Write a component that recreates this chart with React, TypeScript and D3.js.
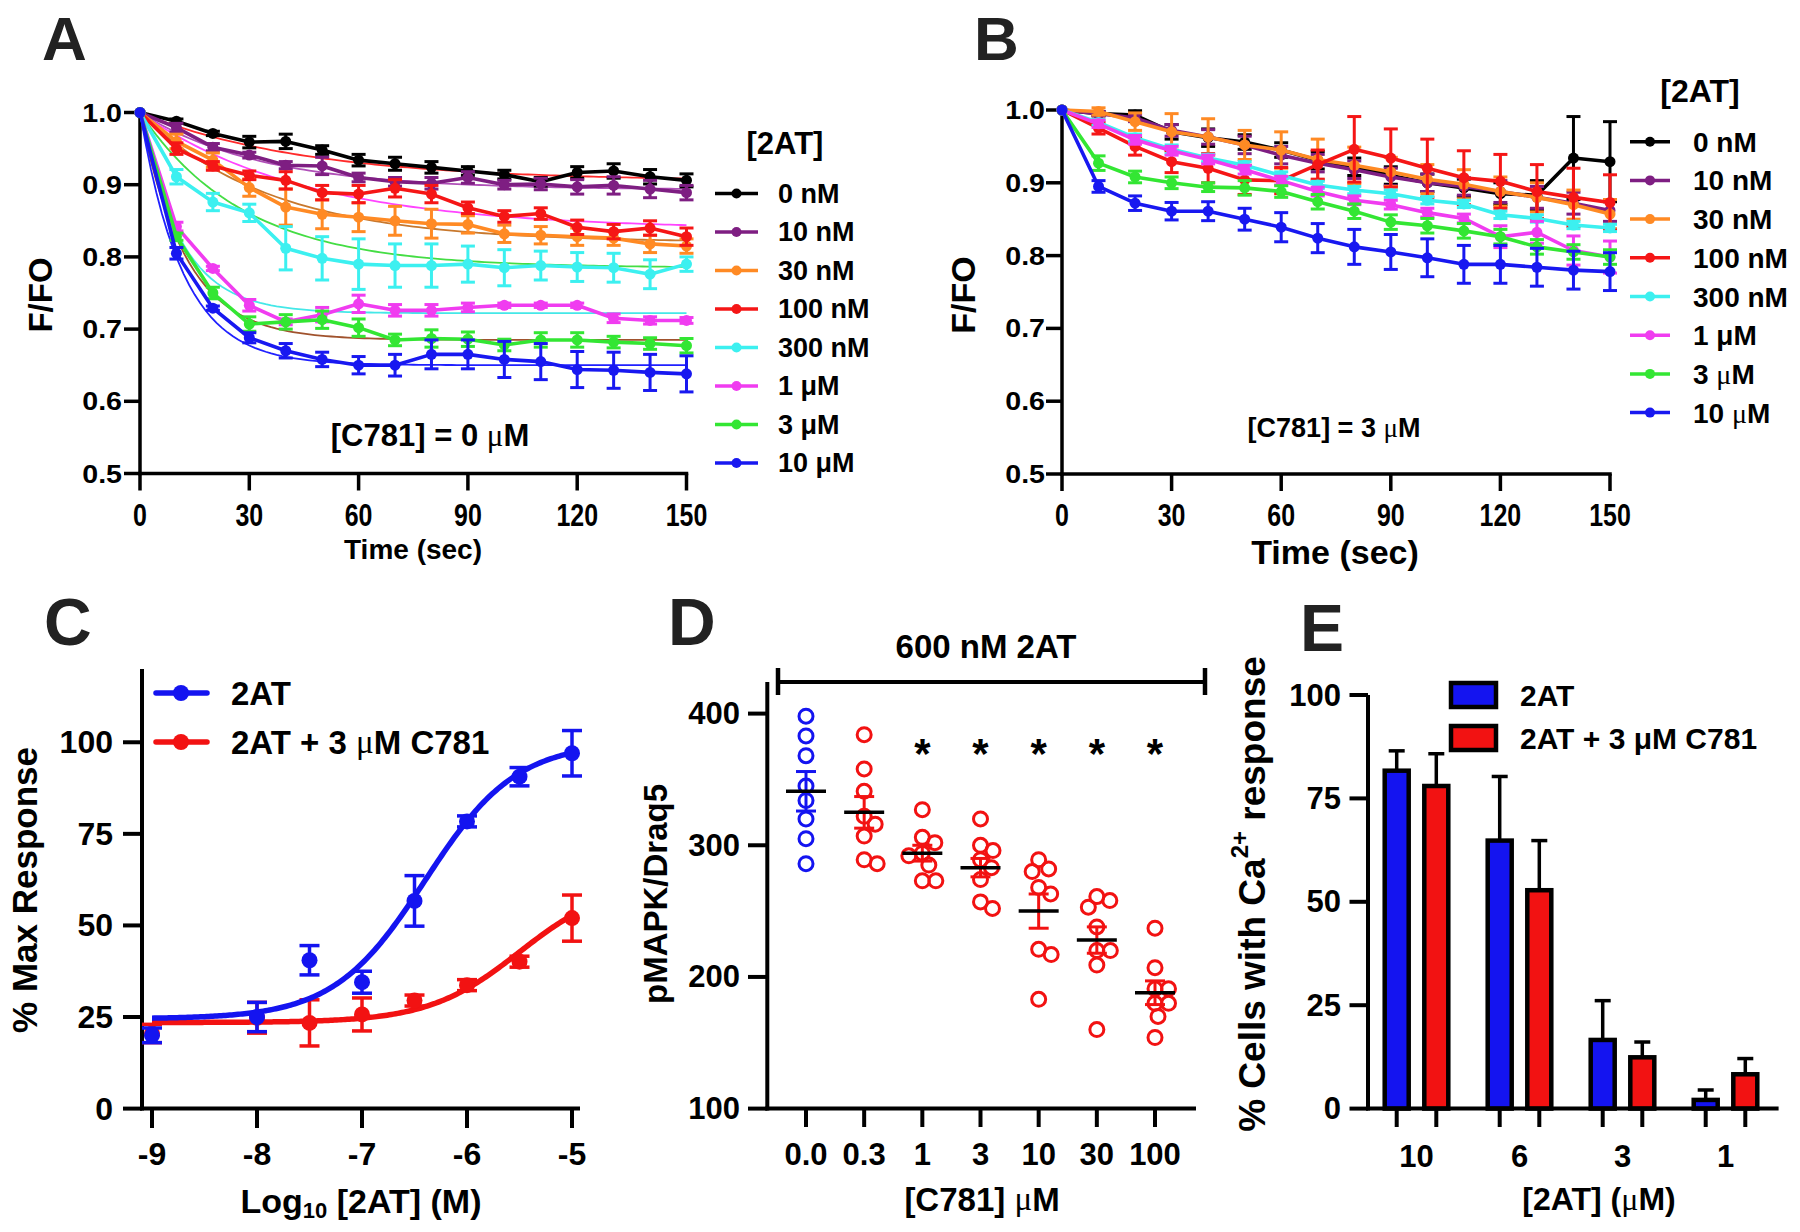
import React from 'react';
import * as d3 from 'd3';

const FONT = "'Liberation Sans', Arial, Helvetica, sans-serif";
const SERIF = "'Liberation Serif', 'Times New Roman', serif";

// ---------- Panels A & B: time courses ----------
const timeSec = [0, 10, 20, 30, 40, 50, 60, 70, 80, 90, 100, 110, 120, 130, 140, 150];
const timeTicks = [0, 30, 60, 90, 120, 150];
const ffoTicks = [0.5, 0.6, 0.7, 0.8, 0.9, 1.0];
const concLabels = ['0 nM', '10 nM', '30 nM', '100 nM', '300 nM', '1 μM', '3 μM', '10 μM'];
const concColors = ['#000000', '#7E1E82', '#FF8A24', '#F51616', '#3CF0F0', '#F03CF0', '#33E633', '#1818F0'];

// Panel A ([C781] = 0 µM)
const a0nM = [1.0, 0.988, 0.971, 0.959, 0.96, 0.948, 0.934, 0.929, 0.924, 0.919, 0.914, 0.904, 0.917, 0.919, 0.911, 0.906];
const a10nM = [1.0, 0.979, 0.952, 0.941, 0.927, 0.926, 0.91, 0.904, 0.902, 0.91, 0.9, 0.901, 0.897, 0.899, 0.894, 0.889];
const a30nM = [1.0, 0.96, 0.934, 0.896, 0.869, 0.859, 0.855, 0.85, 0.846, 0.845, 0.832, 0.83, 0.828, 0.826, 0.818, 0.815];
const a100nM = [1.0, 0.95, 0.926, 0.913, 0.906, 0.889, 0.887, 0.895, 0.887, 0.868, 0.856, 0.86, 0.841, 0.835, 0.84, 0.828];
const a300nM = [1.0, 0.911, 0.876, 0.861, 0.812, 0.798, 0.79, 0.788, 0.788, 0.79, 0.785, 0.788, 0.786, 0.785, 0.776, 0.79];
const a1uM = [1.0, 0.842, 0.784, 0.733, 0.71, 0.72, 0.735, 0.726, 0.726, 0.73, 0.733, 0.733, 0.733, 0.715, 0.712, 0.712];
const a3uM = [1.0, 0.828, 0.75, 0.707, 0.71, 0.713, 0.702, 0.685, 0.687, 0.686, 0.678, 0.685, 0.685, 0.682, 0.68, 0.677];
const a10uM = [1.0, 0.805, 0.729, 0.688, 0.67, 0.658, 0.65, 0.65, 0.665, 0.665, 0.658, 0.655, 0.644, 0.643, 0.64, 0.638];

const a0nMErr = [0, 0.003, 0.003, 0.008, 0.01, 0.006, 0.008, 0.009, 0.008, 0.006, 0.006, 0.006, 0.008, 0.01, 0.01, 0.009];
const a10nMErr = [0, 0.006, 0.005, 0.004, 0.005, 0.012, 0.006, 0.006, 0.008, 0.008, 0.006, 0.008, 0.01, 0.012, 0.012, 0.01];
const a30nMErr = [0, 0.01, 0.01, 0.012, 0.025, 0.02, 0.02, 0.02, 0.02, 0.012, 0.012, 0.012, 0.012, 0.01, 0.012, 0.01];
const a100nMErr = [0, 0.008, 0.006, 0.006, 0.012, 0.01, 0.012, 0.012, 0.012, 0.008, 0.008, 0.008, 0.01, 0.01, 0.01, 0.012];
const a300nMErr = [0, 0.01, 0.012, 0.012, 0.03, 0.03, 0.035, 0.03, 0.03, 0.025, 0.025, 0.02, 0.02, 0.02, 0.02, 0.01];
const a1uMErr = [0, 0.006, 0.003, 0.008, 0.004, 0.01, 0.012, 0.008, 0.008, 0.006, 0.003, 0.003, 0.003, 0.006, 0.005, 0.004];
const a3uMErr = [0, 0.005, 0.008, 0.01, 0.01, 0.012, 0.012, 0.008, 0.012, 0.01, 0.008, 0.01, 0.01, 0.008, 0.008, 0.01];
const a10uMErr = [0, 0.008, 0.003, 0.007, 0.01, 0.01, 0.012, 0.015, 0.02, 0.02, 0.025, 0.025, 0.025, 0.025, 0.025, 0.025];

// one-phase decay fits drawn as thin lines in panel A
const aFitPlateau = [0.905, 0.893, 0.82, 0.838, 0.785, 0.722, 0.685, 0.65];
const aFitRate = [0.022, 0.03, 0.028, 0.022, 0.035, 0.09, 0.08, 0.085];
const aFitColors = ['#FF2A2A', '#B050B8', '#C8782D', '#FF44FF', '#44DD44', '#44E8E8', '#A0522D', '#2020FF'];

// Panel B ([C781] = 3 µM)
const b0nM = [1.0, 0.995, 0.993, 0.97, 0.962, 0.956, 0.945, 0.931, 0.922, 0.91, 0.9, 0.893, 0.885, 0.883, 0.934, 0.929];
const b10nM = [1.0, 0.995, 0.989, 0.972, 0.963, 0.952, 0.938, 0.927, 0.918, 0.908, 0.9, 0.895, 0.888, 0.88, 0.872, 0.862];
const b30nM = [1.0, 0.998, 0.984, 0.97, 0.963, 0.952, 0.945, 0.932, 0.924, 0.915, 0.905, 0.898, 0.888, 0.88, 0.87, 0.857];
const b100nM = [1.0, 0.975, 0.95, 0.929, 0.92, 0.904, 0.903, 0.925, 0.946, 0.934, 0.92, 0.907, 0.902, 0.888, 0.88, 0.873];
const b300nM = [1.0, 0.983, 0.962, 0.946, 0.934, 0.924, 0.91, 0.897, 0.89, 0.885, 0.876, 0.871, 0.856, 0.851, 0.842, 0.838];
const b1uM = [1.0, 0.981, 0.959, 0.944, 0.932, 0.918, 0.903, 0.888, 0.876, 0.87, 0.859, 0.851, 0.826, 0.832, 0.807, 0.798];
const b3uM = [1.0, 0.927, 0.908, 0.9, 0.894, 0.893, 0.888, 0.874, 0.861, 0.846, 0.841, 0.834, 0.826, 0.812, 0.805, 0.798];
const b10uM = [1.0, 0.895, 0.872, 0.861, 0.861, 0.85, 0.839, 0.824, 0.812, 0.805, 0.797, 0.788, 0.788, 0.784, 0.78, 0.778];

const b0nMErr = [0, 0.003, 0.006, 0.01, 0.012, 0.01, 0.01, 0.012, 0.012, 0.012, 0.012, 0.012, 0.015, 0.02, 0.057, 0.055];
const b10nMErr = [0, 0.003, 0.005, 0.008, 0.01, 0.012, 0.012, 0.012, 0.012, 0.012, 0.012, 0.012, 0.015, 0.015, 0.015, 0.015];
const b30nMErr = [0, 0.005, 0.012, 0.025, 0.025, 0.02, 0.025, 0.028, 0.025, 0.02, 0.02, 0.02, 0.02, 0.02, 0.02, 0.02];
const b100nMErr = [0, 0.008, 0.012, 0.015, 0.02, 0.02, 0.018, 0.02, 0.045, 0.04, 0.04, 0.037, 0.037, 0.037, 0.04, 0.038];
const b300nMErr = [0, 0.004, 0.005, 0.006, 0.005, 0.005, 0.005, 0.005, 0.005, 0.005, 0.005, 0.005, 0.005, 0.005, 0.005, 0.005];
const b1uMErr = [0, 0.005, 0.006, 0.006, 0.006, 0.006, 0.006, 0.006, 0.006, 0.006, 0.006, 0.006, 0.015, 0.015, 0.02, 0.022];
const b3uMErr = [0, 0.01, 0.008, 0.008, 0.006, 0.01, 0.008, 0.01, 0.01, 0.01, 0.01, 0.01, 0.01, 0.01, 0.01, 0.01];
const b10uMErr = [0, 0.008, 0.01, 0.012, 0.013, 0.015, 0.02, 0.02, 0.024, 0.024, 0.026, 0.026, 0.026, 0.026, 0.026, 0.026];

// ---------- Panel C: concentration-response ----------
const cLogConc = [-9, -8, -7.5, -7, -6.5, -6, -5.5, -5];
const cLogTicks = [-9, -8, -7, -6, -5];
const cYTicks = [0, 25, 50, 75, 100];
const c2AT = [20, 25, 40.5, 34.5, 56.7, 78.4, 90.6, 97];
const c2ATErr = [2, 4, 4, 3, 6.9, 1.5, 2.5, 6.2];
const cC781 = [20.5, 24.8, 23.4, 25.7, 29.5, 33.7, 40.1, 52];
const cC781Err = [2.5, 4.2, 6.3, 4.5, 1.5, 1.5, 1.5, 6.3];
// 4-parameter logistic fits: [bottom, top, logEC50, hill]
const cFit2AT = [24.5, 100, -6.4, 1];
const cFitC781 = [23.5, 62, -5.5, 1];
const cSeriesLabels = ['2AT', '2AT + 3 μM C781'];

// ---------- Panel D: pMAPK scatter ----------
const dCats = ['0.0', '0.3', '1', '3', '10', '30', '100'];
const dPoints = [
  [398, 383, 368, 345, 334, 320, 305, 286],
  [384, 358, 341, 322, 316, 307, 289, 286],
  [327, 306, 302, 294, 292, 285, 273, 273],
  [320, 300, 296, 289, 283, 274, 257, 252],
  [289, 282, 280, 268, 263, 221, 217, 183],
  [261, 258, 253, 238, 220, 220, 209, 160],
  [237, 207, 191, 191, 180, 180, 170, 154],
];
const dMeans = [341, 325, 294, 283, 250, 228, 188];
const dSems = [15, 12, 6, 7, 13, 10, 9];
const dSignificant = [false, false, true, true, true, true, true];
const dYTicks = [100, 200, 300, 400];

// ---------- Panel E: bars ----------
const eGroups = ['10', '6', '3', '1'];
const e2AT = [81.7, 64.8, 16.6, 2.1];
const e2ATErr = [4.8, 15.5, 9.5, 2.4];
const eC781 = [78, 52.8, 12.4, 8.3];
const eC781Err = [7.8, 12, 3.7, 3.8];
const eYTicks = [0, 25, 50, 75, 100];
const eSeriesLabels = ['2AT', '2AT + 3 μM C781'];

const BLUE = '#1414F0';
const RED = '#F21212';

// text with a light, serif "μ" like the symbol font in the reference
function Mu({ s, light = true }: { s: string; light?: boolean }) {
  const parts = s.split('μ');
  return (
    <>
      {parts.map((p, i) => (
        <React.Fragment key={i}>
          {i > 0 && (
            <tspan fontWeight={light ? 'normal' : 'bold'} fontFamily={light ? SERIF : FONT}>μ</tspan>
          )}
          <tspan>{p}</tspan>
        </React.Fragment>
      ))}
    </>
  );
}

type TimeCfg = {
  x0: number; x1: number; yTop: number; yBot: number;
  yTickRight: number; xTickY: number; xLabel: [number, number]; xLabelSize: number;
  yLabel: [number, number]; yLabelSize: number;
  note: string; noteAt: [number, number]; noteSize: number;
  legTitleAt: [number, number]; legTitleSize: number; legLineX: [number, number]; legTextX: number;
  legY0: number; legDy: number; legSize: number; lightMuLegend: boolean[];
  letter: string; letterAt: [number, number];
};

function TimePanel({ cfg, values, errs, fits }: { cfg: TimeCfg; values: number[][]; errs: number[][]; fits?: boolean }) {
  const x = d3.scaleLinear().domain([0, 150]).range([cfg.x0, cfg.x1]);
  const y = d3.scaleLinear().domain([0.5, 1]).range([cfg.yBot, cfg.yTop]);
  const line = d3.line<number>().x((_, i) => x(timeSec[i])).y((v) => y(v));
  const fitT = d3.range(0, 150.01, 1.5);
  const fitLine = (p: number, k: number) =>
    d3.line<number>().x((t) => x(t)).y((t) => y(p + (1 - p) * Math.exp(-k * t)))(fitT) || '';
  return (
    <g>
      <text x={cfg.letterAt[0]} y={cfg.letterAt[1]} fontSize={62} fontWeight="bold" fill="#222">{cfg.letter}</text>
      {/* axes */}
      <line x1={cfg.x0} x2={cfg.x0} y1={cfg.yTop - 1} y2={cfg.yBot + 1.75} stroke="#000" strokeWidth={3.5} />
      <line x1={cfg.x0 - 1.75} x2={cfg.x1 + 1.75} y1={cfg.yBot} y2={cfg.yBot} stroke="#000" strokeWidth={3.5} />
      {ffoTicks.map((t) => (
        <g key={t}>
          <line x1={cfg.x0 - 16} x2={cfg.x0} y1={y(t)} y2={y(t)} stroke="#000" strokeWidth={3.5} />
          <text transform={`translate(${cfg.yTickRight},${y(t)}) scale(1.1,1)`} textAnchor="end" dominantBaseline="central"
            fontSize={26} fontWeight="bold">{d3.format('.1f')(t)}</text>
        </g>
      ))}
      {timeTicks.map((t) => (
        <g key={t}>
          <line x1={x(t)} x2={x(t)} y1={cfg.yBot} y2={cfg.yBot + 17} stroke="#000" strokeWidth={3.5} />
          <text transform={`translate(${x(t)},${cfg.xTickY}) scale(0.78,1)`} textAnchor="middle" dominantBaseline="central"
            fontSize={32} fontWeight="bold">{t}</text>
        </g>
      ))}
      <text x={cfg.xLabel[0]} y={cfg.xLabel[1]} textAnchor="middle" dominantBaseline="central" fontSize={cfg.xLabelSize} fontWeight="bold">Time (sec)</text>
      <text transform={`translate(${cfg.yLabel[0]},${cfg.yLabel[1]}) rotate(-90)`} textAnchor="middle" dominantBaseline="central"
        fontSize={cfg.yLabelSize} fontWeight="bold">F/FO</text>
      {/* fits */}
      {fits && aFitPlateau.map((p, i) => (
        <path key={'f' + i} d={fitLine(p, aFitRate[i])} fill="none" stroke={aFitColors[i]} strokeWidth={1.8} />
      ))}
      {/* series */}
      {values.map((vals, si) => (
        <g key={si}>
          {vals.map((v, i) => errs[si][i] > 0 ? (
            <g key={i} stroke={concColors[si]} strokeWidth={3}>
              <line x1={x(timeSec[i])} x2={x(timeSec[i])} y1={y(v - errs[si][i])} y2={y(v + errs[si][i])} />
              <line x1={x(timeSec[i]) - 7} x2={x(timeSec[i]) + 7} y1={y(v - errs[si][i])} y2={y(v - errs[si][i])} />
              <line x1={x(timeSec[i]) - 7} x2={x(timeSec[i]) + 7} y1={y(v + errs[si][i])} y2={y(v + errs[si][i])} />
            </g>
          ) : null)}
          <path d={line(vals) || ''} fill="none" stroke={concColors[si]} strokeWidth={3.6} strokeLinejoin="round" />
          {vals.map((v, i) => (
            <circle key={'c' + i} cx={x(timeSec[i])} cy={y(v)} r={5.5} fill={concColors[si]} />
          ))}
        </g>
      ))}
      {/* annotation */}
      <text x={cfg.noteAt[0]} y={cfg.noteAt[1]} textAnchor="middle" dominantBaseline="central" fontSize={cfg.noteSize} fontWeight="bold">
        <Mu s={cfg.note} />
      </text>
      {/* legend */}
      <text x={cfg.legTitleAt[0]} y={cfg.legTitleAt[1]} textAnchor="middle" dominantBaseline="central" fontSize={cfg.legTitleSize} fontWeight="bold">[2AT]</text>
      {concLabels.map((lab, i) => {
        const ly = cfg.legY0 + i * cfg.legDy;
        return (
          <g key={lab}>
            <line x1={cfg.legLineX[0]} x2={cfg.legLineX[1]} y1={ly} y2={ly} stroke={concColors[i]} strokeWidth={3.5} />
            <circle cx={(cfg.legLineX[0] + cfg.legLineX[1]) / 2} cy={ly} r={5} fill={concColors[i]} />
            <text x={cfg.legTextX} y={ly} dominantBaseline="central" fontSize={cfg.legSize} fontWeight="bold">
              <Mu s={lab} light={cfg.lightMuLegend[i]} />
            </text>
          </g>
        );
      })}
    </g>
  );
}

function PanelC() {
  const x = d3.scaleLinear().domain([-9, -5]).range([152, 572]);
  const y = d3.scaleLinear().domain([0, 120]).range([1108.6, 669]);
  const logistic = (p: number[], lx: number) => p[0] + (p[1] - p[0]) / (1 + Math.pow(10, (p[2] - lx) * p[3]));
  const xs = d3.range(-9, -4.999, 0.02);
  const curve = (p: number[]) => d3.line<number>().x((v) => x(v)).y((v) => y(logistic(p, v)))(xs) || '';
  const series = [
    { vals: cC781, errs: cC781Err, fit: cFitC781, color: RED },
    { vals: c2AT, errs: c2ATErr, fit: cFit2AT, color: BLUE },
  ];
  return (
    <g>
      <text x={44} y={645} fontSize={66} fontWeight="bold" fill="#222">C</text>
      <line x1={142} x2={142} y1={669} y2={1110.6} stroke="#000" strokeWidth={4} />
      <line x1={140} x2={580} y1={1108.6} y2={1108.6} stroke="#000" strokeWidth={4} />
      {cYTicks.map((t) => (
        <g key={t}>
          <line x1={123} x2={142} y1={y(t)} y2={y(t)} stroke="#000" strokeWidth={4} />
          <text x={113} y={y(t)} textAnchor="end" dominantBaseline="central" fontSize={32} fontWeight="bold">{t}</text>
        </g>
      ))}
      {cLogTicks.map((t) => (
        <g key={t}>
          <line x1={x(t)} x2={x(t)} y1={1108.6} y2={1128} stroke="#000" strokeWidth={4} />
          <text x={x(t)} y={1154} textAnchor="middle" dominantBaseline="central" fontSize={32} fontWeight="bold">{t}</text>
        </g>
      ))}
      <text x={361} y={1201} textAnchor="middle" dominantBaseline="central" fontSize={34} fontWeight="bold">
        <tspan>Log</tspan><tspan fontSize={22} dy={9}>10</tspan><tspan dy={-9}> [2AT] (M)</tspan>
      </text>
      <text transform="translate(24,890) rotate(-90)" textAnchor="middle" dominantBaseline="central" fontSize={35} fontWeight="bold">% Max Response</text>
      {series.map((s, si) => (
        <g key={si}>
          <path d={curve(s.fit)} fill="none" stroke={s.color} strokeWidth={5.5} />
          {s.vals.map((v, i) => (
            <g key={i} stroke={s.color} strokeWidth={3.5}>
              <line x1={x(cLogConc[i])} x2={x(cLogConc[i])} y1={y(v - s.errs[i])} y2={y(v + s.errs[i])} />
              <line x1={x(cLogConc[i]) - 10} x2={x(cLogConc[i]) + 10} y1={y(v - s.errs[i])} y2={y(v - s.errs[i])} />
              <line x1={x(cLogConc[i]) - 10} x2={x(cLogConc[i]) + 10} y1={y(v + s.errs[i])} y2={y(v + s.errs[i])} />
              <circle cx={x(cLogConc[i])} cy={y(v)} r={8} fill={s.color} stroke="none" />
            </g>
          ))}
        </g>
      ))}
      {cSeriesLabels.map((lab, i) => {
        const ly = 693 + i * 49;
        const col = i === 0 ? BLUE : RED;
        return (
          <g key={lab}>
            <line x1={156} x2={207} y1={ly} y2={ly} stroke={col} strokeWidth={5.5} strokeLinecap="round" />
            <circle cx={181} cy={ly} r={8} fill={col} />
            <text x={231} y={ly} dominantBaseline="central" fontSize={33} fontWeight="bold"><Mu s={lab} /></text>
          </g>
        );
      })}
    </g>
  );
}

function swarmOffsets(vals: number[], y: (v: number) => number, minDist: number) {
  const placed: { x: number; y: number }[] = [];
  const out: number[] = new Array(vals.length).fill(0);
  const order = vals.map((v, i) => ({ v, i })).sort((a, b) => b.v - a.v);
  const cands = [0];
  for (let k = 1; k <= 60; k++) cands.push(k * 0.5, -k * 0.5);
  for (const { v, i } of order) {
    const py = y(v);
    let off = 0;
    for (const c of cands) {
      if (placed.every((p) => Math.hypot(p.x - c, p.y - py) >= minDist)) { off = c; break; }
    }
    placed.push({ x: off, y: py });
    out[i] = off;
  }
  return out;
}

function PanelD() {
  const x = d3.scalePoint<string>().domain(dCats).range([806, 1155]);
  const y = d3.scaleLinear().domain([100, 424]).range([1108.6, 682]);
  return (
    <g>
      <text x={668} y={645} fontSize={66} fontWeight="bold" fill="#222">D</text>
      <text x={986} y={646} textAnchor="middle" dominantBaseline="central" fontSize={33} fontWeight="bold">600 nM 2AT</text>
      <line x1={776} x2={1207} y1={682} y2={682} stroke="#000" strokeWidth={4} />
      <line x1={778} x2={778} y1={668} y2={695} stroke="#000" strokeWidth={4.5} />
      <line x1={1205} x2={1205} y1={668} y2={695} stroke="#000" strokeWidth={4.5} />
      <line x1={767.3} x2={767.3} y1={y(424)} y2={1110.6} stroke="#000" strokeWidth={4} />
      <line x1={765.3} x2={1196} y1={1108.6} y2={1108.6} stroke="#000" strokeWidth={4} />
      {dYTicks.map((t) => (
        <g key={t}>
          <line x1={748} x2={767.3} y1={y(t)} y2={y(t)} stroke="#000" strokeWidth={4} />
          <text x={740} y={y(t)} textAnchor="end" dominantBaseline="central" fontSize={31} fontWeight="bold">{t}</text>
        </g>
      ))}
      {dCats.map((c) => (
        <g key={c}>
          <line x1={x(c)!} x2={x(c)!} y1={1108.6} y2={1127} stroke="#000" strokeWidth={4} />
          <text x={x(c)!} y={1154} textAnchor="middle" dominantBaseline="central" fontSize={31} fontWeight="bold">{c}</text>
        </g>
      ))}
      <text x={982} y={1199} textAnchor="middle" dominantBaseline="central" fontSize={33} fontWeight="bold"><Mu s="[C781] μM" /></text>
      <text transform="translate(655,894) rotate(-90)" textAnchor="middle" dominantBaseline="central" fontSize={33} fontWeight="bold">pMAPK/Draq5</text>
      {dCats.map((c, ci) => {
        const cx = x(c)!;
        const col = ci === 0 ? BLUE : RED;
        const offs = swarmOffsets(dPoints[ci], (v) => y(v), 13.5);
        const m = dMeans[ci];
        const s = dSems[ci];
        return (
          <g key={c}>
            {dPoints[ci].map((v, i) => (
              <circle key={i} cx={cx + offs[i]} cy={y(v)} r={7} fill="none" stroke={col} strokeWidth={3} />
            ))}
            <g stroke={col} strokeWidth={3}>
              <line x1={cx} x2={cx} y1={y(m - s)} y2={y(m + s)} />
              <line x1={cx - 10} x2={cx + 10} y1={y(m - s)} y2={y(m - s)} />
              <line x1={cx - 10} x2={cx + 10} y1={y(m + s)} y2={y(m + s)} />
            </g>
            <line x1={cx - 20} x2={cx + 20} y1={y(m)} y2={y(m)} stroke="#000" strokeWidth={3.5} />
            {dSignificant[ci] && (
              <text x={cx} y={768} textAnchor="middle" fontSize={42} fontWeight="bold">*</text>
            )}
          </g>
        );
      })}
    </g>
  );
}

function PanelE() {
  const xg = d3.scaleBand<string>().domain(eGroups).range([1365, 1777]);
  const xs = d3.scalePoint<string>().domain(['2AT', 'C781']).range([31.7, 71.3]);
  const y = d3.scaleLinear().domain([0, 100]).range([1108.6, 695]);
  const series = [
    { key: '2AT', vals: e2AT, errs: e2ATErr, color: BLUE },
    { key: 'C781', vals: eC781, errs: eC781Err, color: RED },
  ];
  const bw = 24;
  return (
    <g>
      <text x={1300} y={651} fontSize={66} fontWeight="bold" fill="#222">E</text>
      <line x1={1368} x2={1368} y1={y(100)} y2={1110.6} stroke="#000" strokeWidth={4} />
      {eYTicks.map((t) => (
        <g key={t}>
          <line x1={1349.5} x2={1368} y1={y(t)} y2={y(t)} stroke="#000" strokeWidth={4} />
          <text x={1341} y={y(t)} textAnchor="end" dominantBaseline="central" fontSize={31} fontWeight="bold">{t}</text>
        </g>
      ))}
      {eGroups.map((g) => {
        const gx = xg(g)!;
        return (
          <g key={g}>
            {series.map((s) => {
              const i = eGroups.indexOf(g);
              const cx = gx + xs(s.key)!;
              const v = s.vals[i];
              const top = y(v + s.errs[i]);
              return (
                <g key={s.key}>
                  <line x1={cx} x2={cx} y1={y(v)} y2={top} stroke="#000" strokeWidth={3.5} />
                  <line x1={cx - 8} x2={cx + 8} y1={top} y2={top} stroke="#000" strokeWidth={3.5} />
                  <rect x={cx - bw / 2} y={y(v)} width={bw} height={y(0) - y(v)} fill={s.color} stroke="#000" strokeWidth={4.5} />
                  <line x1={cx} x2={cx} y1={1108.6} y2={1127} stroke="#000" strokeWidth={4} />
                </g>
              );
            })}
            <text x={gx + xg.bandwidth() / 2} y={1156} textAnchor="middle" dominantBaseline="central" fontSize={31} fontWeight="bold">{g}</text>
          </g>
        );
      })}
      <line x1={1366} x2={1778.6} y1={1108.6} y2={1108.6} stroke="#000" strokeWidth={4} />
      <text x={1599} y={1199} textAnchor="middle" dominantBaseline="central" fontSize={32} fontWeight="bold"><Mu s="[2AT] (μM)" /></text>
      <text transform="translate(1252,894) rotate(-90)" textAnchor="middle" dominantBaseline="central" fontSize={37} fontWeight="bold">
        <tspan>% Cells with Ca</tspan><tspan fontSize={24} dy={-13}>2+</tspan><tspan dy={13}> response</tspan>
      </text>
      {eSeriesLabels.map((lab, i) => {
        const ly = 695 + i * 43;
        return (
          <g key={lab}>
            <rect x={1451} y={ly - 12} width={45} height={24} fill={i === 0 ? BLUE : RED} stroke="#000" strokeWidth={4.5} />
            <text x={1520} y={ly} dominantBaseline="central" fontSize={30} fontWeight="bold"><Mu s={lab} light={false} /></text>
          </g>
        );
      })}
    </g>
  );
}

const cfgA: TimeCfg = {
  x0: 140, x1: 686.5, yTop: 112.5, yBot: 473.5,
  yTickRight: 122, xTickY: 515, xLabel: [413, 549], xLabelSize: 28,
  yLabel: [40, 295], yLabelSize: 33,
  note: '[C781] = 0 μM', noteAt: [430, 435], noteSize: 31,
  legTitleAt: [785, 143], legTitleSize: 31, legLineX: [715, 758], legTextX: 778,
  legY0: 193.5, legDy: 38.5, legSize: 27, lightMuLegend: [false, false, false, false, false, false, false, false],
  letter: 'A', letterAt: [42, 60],
};

const cfgB: TimeCfg = {
  x0: 1062, x1: 1610, yTop: 110, yBot: 474,
  yTickRight: 1045, xTickY: 515, xLabel: [1335, 552], xLabelSize: 34,
  yLabel: [963, 295], yLabelSize: 34,
  note: '[C781] = 3 μM', noteAt: [1334, 428], noteSize: 27,
  legTitleAt: [1700, 91], legTitleSize: 32, legLineX: [1630, 1670], legTextX: 1693,
  legY0: 141.7, legDy: 38.7, legSize: 28, lightMuLegend: [false, false, false, false, false, false, true, true],
  letter: 'B', letterAt: [974, 60],
};

export default function App() {
  const aValues = [a0nM, a10nM, a30nM, a100nM, a300nM, a1uM, a3uM, a10uM];
  const aErrs = [a0nMErr, a10nMErr, a30nMErr, a100nMErr, a300nMErr, a1uMErr, a3uMErr, a10uMErr];
  const bValues = [b0nM, b10nM, b30nM, b100nM, b300nM, b1uM, b3uM, b10uM];
  const bErrs = [b0nMErr, b10nMErr, b30nMErr, b100nMErr, b300nMErr, b1uMErr, b3uMErr, b10uMErr];
  return (
    <svg width={1800} height={1232} viewBox="0 0 1800 1232" fontFamily={FONT}
      style={{ position: 'absolute', left: 0, top: 0, background: '#fff' }}>
      <rect width={1800} height={1232} fill="#fff" />
      <TimePanel cfg={cfgA} values={aValues} errs={aErrs} fits />
      <TimePanel cfg={cfgB} values={bValues} errs={bErrs} />
      <PanelC />
      <PanelD />
      <PanelE />
    </svg>
  );
}
